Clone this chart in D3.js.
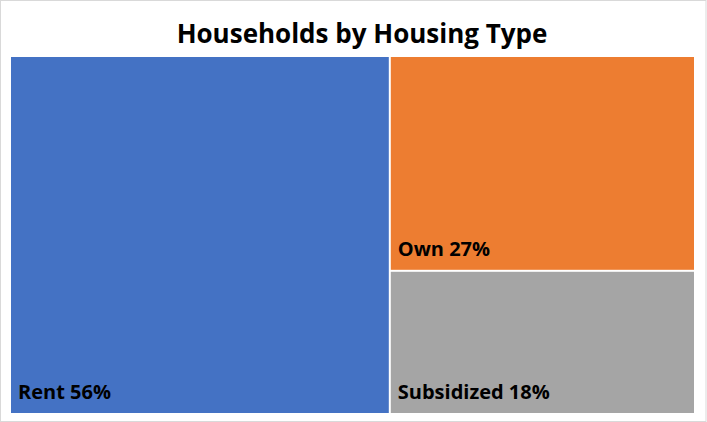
<!DOCTYPE html>
<html><head><meta charset="utf-8">
<script src="https://cdn.jsdelivr.net/npm/d3@7"></script>
<style>html,body{margin:0;padding:0;background:#fff;}</style>
</head><body>
<script>
const categories = ["Rent", "Own", "Subsidized"];
const values = [56, 27, 18];
const colors = ["#4472C4", "#ED7D31", "#A5A5A5"];
const title = "Households by Housing Type";

const W = 707, H = 422;
const svg = d3.select("body").append("svg").attr("width", W).attr("height", H);
svg.append("rect").attr("x",0.5).attr("y",0.5).attr("width",W-1.5).attr("height",H-1)
  .attr("fill","#fff").attr("stroke","#d9d9d9");

svg.append("text").attr("x", 362).attr("y", 43).attr("text-anchor","middle")
  .style("font-family","'Open Sans', Lato, sans-serif").style("font-weight","bold")
  .style("font-size","26px").attr("fill","#000").text(title);

const data = {name:"root", children: categories.map((c,i)=>({name:c, value:values[i], color:colors[i]}))};
const root = d3.hierarchy(data).sum(d=>d.value||0).sort((a,b)=>b.value-a.value);
d3.treemap().tile(d3.treemapBinary).size([683, 356]).paddingInner(2)(root);

const g = svg.append("g").attr("transform","translate(11,57)");
const leaf = g.selectAll("g").data(root.leaves()).join("g")
  .attr("transform", d=>`translate(${d.x0},${d.y0})`);
leaf.append("rect").attr("width", d=>d.x1-d.x0).attr("height", d=>d.y1-d.y0)
  .attr("fill", d=>d.data.color);
leaf.append("text").attr("x", 7).attr("y", d=>d.y1-d.y0-14)
  .style("font-family","'Open Sans', Lato, sans-serif").style("font-weight","bold")
  .style("font-size","20px").attr("fill","#000")
  .text(d=>`${d.data.name} ${d.data.value}%`);
</script>
</body></html>
